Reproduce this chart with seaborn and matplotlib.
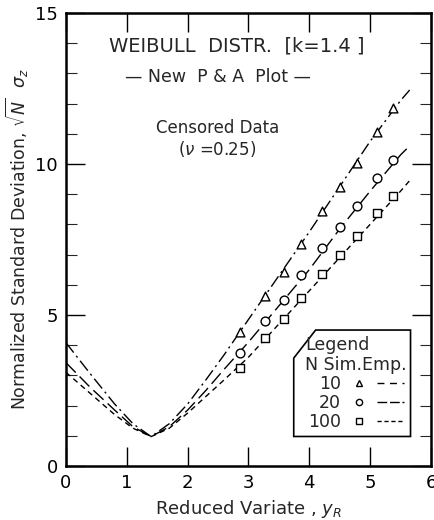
import numpy as np
import pandas as pd
import matplotlib
matplotlib.use("Agg")
import matplotlib.pyplot as plt
import seaborn as sns
from matplotlib.lines import Line2D
from matplotlib.legend_handler import HandlerTuple
from matplotlib.patches import Polygon

# ---- data ----
x_curve = [0, 0.4, 0.8, 1.1, 1.4, 1.7, 2.0, 2.3, 2.6, 3.0, 3.5, 4.0, 4.5, 5.0, 5.5, 5.65]
emp_n10 = [4.08, 3.05, 2.05, 1.4, 0.97, 1.4, 2.05, 2.85, 3.68, 4.85, 6.3, 7.75, 9.25, 10.75, 12.1, 12.45]
emp_n20 = [3.42, 2.6, 1.85, 1.3, 0.97, 1.3, 1.85, 2.5, 3.2, 4.1, 5.3, 6.5, 7.85, 9.1, 10.3, 10.6]
emp_n100 = [3.1, 2.4, 1.7, 1.25, 0.97, 1.25, 1.75, 2.3, 2.85, 3.6, 4.7, 5.8, 6.9, 8.0, 9.1, 9.45]

x_sim = [2.86, 3.27, 3.58, 3.86, 4.21, 4.51, 4.78, 5.11, 5.38]
sim_n10 = [4.45, 5.63, 6.43, 7.35, 8.45, 9.25, 10.04, 11.07, 11.84]
sim_n20 = [3.75, 4.80, 5.50, 6.32, 7.23, 7.92, 8.61, 9.53, 10.13]
sim_n100 = [3.24, 4.23, 4.86, 5.55, 6.36, 6.99, 7.62, 8.37, 8.94]

n_labels = ["10", "20", "100"]
x_ticks = [0, 1, 2, 3, 4, 5, 6]
y_ticks = [0, 5, 10, 15]

sns.set_theme(style="white")
plt.rcParams["font.family"] = ["DejaVu Sans"]
plt.rcParams["mathtext.fontset"] = "dejavusans"

fig = plt.figure(figsize=(4.34, 5.20), dpi=100)
ax = fig.add_axes([0.152, 0.104, 0.841, 0.871])

styles = [
    (emp_n10, sim_n10, "^", (0, (9, 3, 1.5, 3)), (0, (5, 4))),
    (emp_n20, sim_n20, "o", (0, (10, 4)), (0, (7, 2))),
    (emp_n100, sim_n100, "s", (0, (4, 3)), (0, (3, 2))),
]

handles = []
for (emp, sim, mk, ls, ls_leg), lab in zip(styles, n_labels):
    df_c = pd.DataFrame({"x": x_curve, "y": emp})
    sns.lineplot(data=df_c, x="x", y="y", ax=ax, color="black", lw=1.0,
                 sort=False, estimator=None, linestyle=ls)
    df_s = pd.DataFrame({"x": x_sim, "y": sim})
    sns.scatterplot(data=df_s, x="x", y="y", ax=ax, marker=mk, s=40,
                    facecolor="white", edgecolor="black", linewidth=1.0, zorder=3)
    h_m = Line2D([], [], marker=mk, ls="none", mfc="white", mec="black", ms=4.5, mew=1.0)
    h_l = Line2D([], [], color="black", lw=1.0, linestyle=ls_leg)
    handles.append((h_m, h_l))

ax.set_xlim(0, 6)
ax.set_ylim(0, 15)
ax.set_xticks(x_ticks)
ax.set_yticks(y_ticks)
ax.set_yticks(np.arange(0, 16, 1), minor=True)
ax.set_xticklabels([str(t) for t in x_ticks], fontsize=13)
ax.set_yticklabels([str(t) for t in y_ticks], fontsize=13)
ax.tick_params(axis="both", which="major", direction="in", length=14, width=1.0,
               top=True, right=True, bottom=True, left=True, pad=6, colors="black")
ax.tick_params(axis="y", which="minor", direction="in", length=8, width=0.8,
               left=True, right=True)
for sp in ax.spines.values():
    sp.set_color("black")
    sp.set_linewidth(1.8)

ax.set_xlabel(r"Reduced Variate , $y_R$", fontsize=13, labelpad=4)
ax.set_ylabel(r"Normalized Standard Deviation, $\sqrt{N}\ \ \sigma_z$", fontsize=12.5, labelpad=3)

ax.text(2.8, 13.9, "WEIBULL  DISTR.  [k=1.4 ]", ha="center", va="center", fontsize=14)
ax.text(2.5, 12.88, "— New  P & A  Plot —", ha="center", va="center", fontsize=12.5)
ax.text(2.49, 11.19, "Censored Data", ha="center", va="center", fontsize=12)
ax.text(2.49, 10.5, r"($\nu$ =0.25)", ha="center", va="center", fontsize=12)

# legend frame with clipped top-left corner
bx0, by0, bx1, by1 = 0.624, 0.065, 0.944, 0.300
cx, cy = 0.06, 0.062
poly = Polygon([(bx0, by0), (bx1, by0), (bx1, by1), (bx0 + cx, by1), (bx0, by1 - cy)],
               closed=True, transform=ax.transAxes, facecolor="white",
               edgecolor="black", lw=1.2, zorder=4)
ax.add_patch(poly)

leg = ax.legend(handles, n_labels, handler_map={tuple: HandlerTuple(ndivide=None, pad=0.3)},
                title="Legend\nN Sim.Emp.", title_fontsize=12.5, fontsize=12.5,
                markerfirst=False, frameon=False, loc="center",
                bbox_to_anchor=((bx0 + bx1) / 2 + 0.01, (by0 + by1) / 2),
                handlelength=3.3, handletextpad=0.3,
                labelspacing=0.05, borderpad=0.1)
leg._legend_box.align = "center"
leg.set_zorder(5)

fig.savefig("out.png", dpi=100)
